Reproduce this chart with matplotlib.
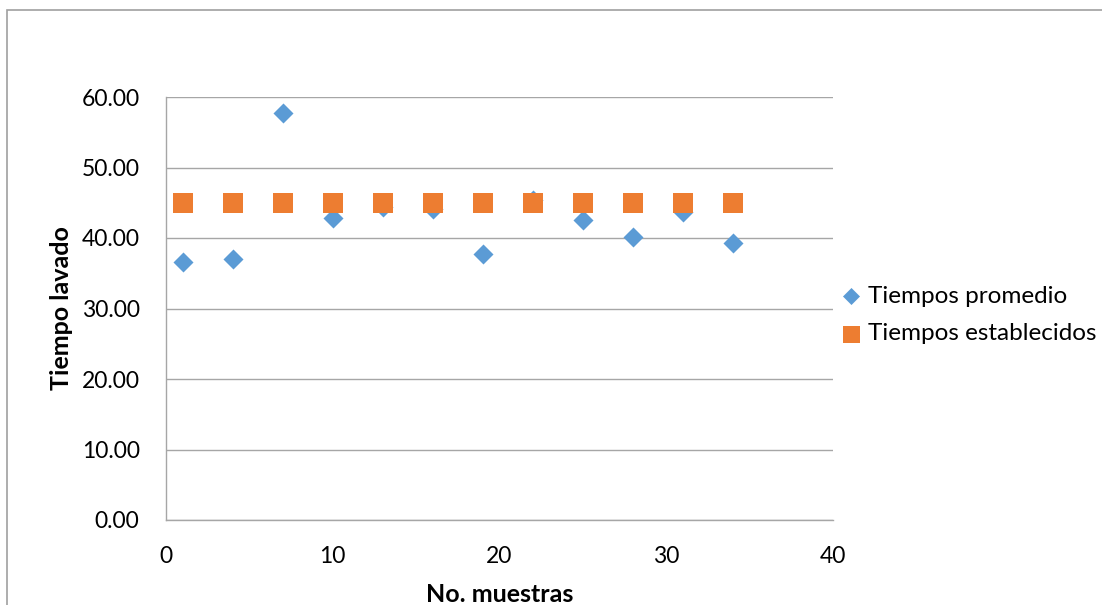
import matplotlib
matplotlib.use("Agg")
import matplotlib.pyplot as plt
from matplotlib.patches import Rectangle

# Sample numbers and measured times
muestras = [1, 4, 7, 10, 13, 16, 19, 22, 25, 28, 31, 34]
tiempos_promedio = [36.6, 37.0, 57.7, 42.8, 44.4, 44.1, 37.7, 45.4, 42.5, 40.2, 43.7, 39.3]
tiempos_establecidos = [45.0] * 12

x_ticks = [0, 10, 20, 30, 40]
y_ticks = [0, 10, 20, 30, 40, 50, 60]

plt.rcParams["font.family"] = ["Lato", "DejaVu Sans"]

W, H = 1102, 605
fig = plt.figure(figsize=(W / 100, H / 100), dpi=100)
ax = fig.add_axes([166 / W, 1 - 520 / H, (833 - 166) / W, (520 - 97) / H])

grid_c = "#a6a6a6"
ax.scatter(muestras, tiempos_promedio, marker="D", s=10.2 ** 2,
           color="#5B9BD5", linewidths=0, zorder=3, label="Tiempos promedio")
ax.scatter(muestras, tiempos_establecidos, marker="s", s=14.4 ** 2,
           color="#ED7D31", linewidths=0, zorder=4, label="Tiempos establecidos")

ax.set_xlim(0, 40)
ax.set_ylim(0, 60)
ax.set_xticks(x_ticks)
ax.set_yticks(y_ticks)
ax.set_yticklabels([f"{v:.2f}" for v in y_ticks])
ax.yaxis.grid(True, color=grid_c, linewidth=1.0)
ax.set_axisbelow(True)
for side in ("top", "right"):
    ax.spines[side].set_visible(False)
for side in ("left", "bottom"):
    ax.spines[side].set_color(grid_c)
    ax.spines[side].set_linewidth(1.0)
ax.tick_params(axis="both", length=0, labelsize=16.5, colors="black")
ax.tick_params(axis="y", pad=19)
ax.tick_params(axis="x", pad=19)

ax.set_xlabel("No. muestras", fontsize=18, fontweight="bold", labelpad=11)
ax.set_ylabel("Tiempo lavado", fontsize=18, fontweight="bold", labelpad=6)

leg = ax.legend(loc="center left", bbox_to_anchor=(841 / W, 1 - 315 / H),
                bbox_transform=fig.transFigure, frameon=False,
                fontsize=17.5, handlelength=0.8, handletextpad=0.3,
                labelspacing=0.68, markerscale=0.85,
                borderpad=0, borderaxespad=0)

# outer chart frame
fig.patches.append(Rectangle((7 / W, -0.1), 1.2, 1 - 10 / H + 0.1,
                             transform=fig.transFigure, fill=False,
                             edgecolor="#a0a0a0", linewidth=1.2))

fig.savefig("out.png", dpi=100)
